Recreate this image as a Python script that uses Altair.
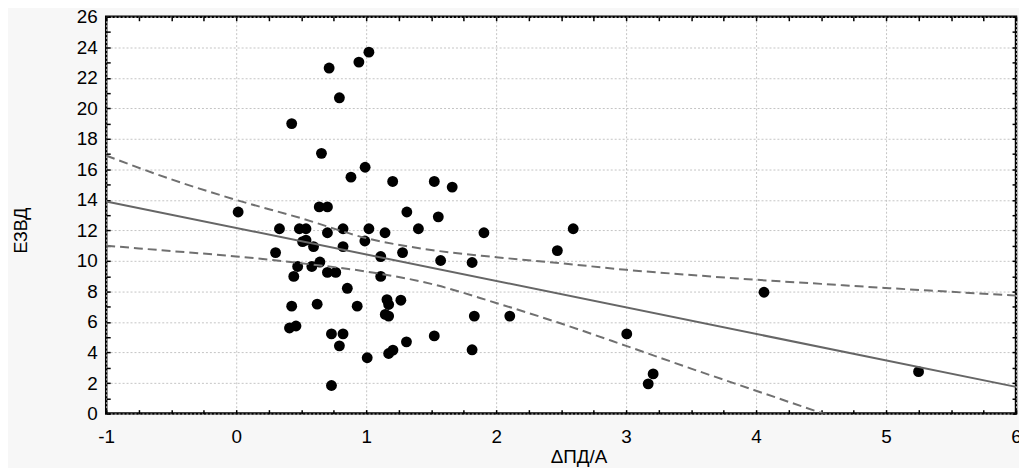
import altair as alt
import pandas as pd

# scatter points (ΔПД/А, ЕЗВД)
px = [0.015, 0.427, 0.715, 0.944, 1.021, 0.794, 0.656, 0.992, 0.883, 1.204,
      1.524, 1.662, 0.639, 0.702, 1.313, 1.555, 0.333, 0.486, 0.537, 0.702,
      0.822, 1.021, 1.145, 1.402, 1.906, 0.511, 0.537, 0.595, 0.822, 0.990,
      0.303, 1.112, 1.280, 1.573, 1.815, 0.473, 0.644, 0.582, 0.443, 0.702,
      0.766, 1.112, 0.855, 0.427, 0.623, 0.931, 1.160, 1.173, 1.267, 1.147,
      1.173, 1.832, 2.105, 0.410, 0.460, 0.733, 0.822, 1.524, 0.794, 1.310,
      1.815, 1.173, 1.206, 1.008, 0.733, 2.471, 2.593, 3.005, 3.208, 3.170,
      4.061, 5.250]
py = [13.21, 19.00, 22.64, 23.03, 23.68, 20.69, 17.05, 16.14, 15.49, 15.21,
      15.21, 14.84, 13.54, 13.54, 13.21, 12.89, 12.11, 12.11, 12.11, 11.85,
      12.11, 12.11, 11.85, 12.11, 11.85, 11.27, 11.37, 10.94, 10.94, 11.31,
      10.55, 10.29, 10.55, 10.03, 9.90, 9.64, 9.93, 9.64, 8.99, 9.25,
      9.25, 8.99, 8.21, 7.04, 7.17, 7.04, 7.47, 7.15, 7.43, 6.50,
      6.39, 6.39, 6.39, 5.61, 5.74, 5.22, 5.22, 5.09, 4.44, 4.70,
      4.18, 3.94, 4.16, 3.66, 1.84, 10.68, 12.11, 5.22, 2.60, 1.95,
      7.95, 2.75]

# regression line
reg_x = [-1, 6]
reg_y = [13.9, 1.75]

# confidence band (dashed)
band_x = [-1, -0.5, 0, 0.5, 1, 1.5, 2, 2.5, 3, 3.5, 4, 4.5, 5, 5.5, 6]
upper_y = [16.9, 15.35, 14.0, 12.8, 11.5, 10.72, 10.25, 9.85, 9.42, 9.08, 8.77, 8.5, 8.23, 7.98, 7.73]
lower_x = [-1, -0.5, 0, 0.5, 1, 1.5, 2, 2.5, 3, 3.5, 4, 4.5, 5]
lower_y = [11.0, 10.65, 10.3, 9.85, 9.31, 8.5, 7.25, 5.9, 4.44, 2.95, 1.5, 0.05, -1.35]

x_minor = [-1 + 0.25 * i for i in range(29)]
y_minor = list(range(0, 27))

pts = pd.DataFrame({"x": px, "y": py})
reg = pd.DataFrame({"x": reg_x, "y": reg_y})
up = pd.DataFrame({"x": band_x, "y": upper_y})
lo = pd.DataFrame({"x": lower_x, "y": lower_y})

FONT = "Liberation Sans"
xs = alt.Scale(domain=[-1, 6], nice=False, zero=False)
ys = alt.Scale(domain=[0, 26], nice=False, zero=False)

X_MINOR = "datum.value % 1 !== 0"
Y_MINOR = "datum.value % 2 !== 0"
TS = 4

points = alt.Chart(pts).mark_point(filled=True, color="black", opacity=1, size=120).encode(
    x=alt.X("x:Q", scale=xs, title="ΔПД/А",
            axis=alt.Axis(orient="bottom", values=x_minor,
                          labelExpr="datum.value % 1 === 0 ? '' + datum.value : ''",
                          domain=False, ticks=True, tickSize=TS, tickColor="black", tickWidth=1.5,
                          offset=-TS,
                          grid=True, gridColor="#c4c4c4", gridDash=[2, 2], gridWidth=1,
                          gridOpacity={"condition": {"test": X_MINOR, "value": 0}, "value": 1},
                          labelFont=FONT, labelFontSize=19, labelColor="black",
                          labelPadding=14, titleFont=FONT, titleFontSize=19,
                          titleFontWeight="normal", titleColor="black", titlePadding=1,
                          titleX=476, labelFlush=False)),
    y=alt.Y("y:Q", scale=ys, title="ЕЗВД",
            axis=alt.Axis(orient="left", values=y_minor,
                          labelExpr="datum.value % 2 === 0 ? '' + datum.value : ''",
                          domain=False, ticks=True, tickSize=TS, tickColor="black", tickWidth=1.5,
                          offset=-TS,
                          grid=True, gridColor="#c4c4c4", gridDash=[2, 2], gridWidth=1,
                          gridOpacity={"condition": {"test": Y_MINOR, "value": 0}, "value": 1},
                          labelFont=FONT, labelFontSize=19, labelColor="black",
                          labelPadding=9, titleFont=FONT, titleFontSize=18,
                          titleFontWeight="normal", titleColor="black", titlePadding=46,
                          titleY=215, labelFlush=False)),
)

regline = alt.Chart(reg).mark_line(color="#666666", strokeWidth=2).encode(
    x=alt.X("x:Q", scale=xs, axis=None), y=alt.Y("y:Q", scale=ys, axis=None))

upper = alt.Chart(up).mark_line(color="#707070", strokeWidth=2, strokeDash=[9, 5], interpolate="monotone").encode(
    x=alt.X("x:Q", scale=xs, axis=None), y=alt.Y("y:Q", scale=ys, axis=None))

lower = alt.Chart(lo).mark_line(color="#707070", strokeWidth=2, strokeDash=[9, 5], interpolate="monotone", clip=True).encode(
    x=alt.X("x:Q", scale=xs, axis=None), y=alt.Y("y:Q", scale=ys, axis=None))

def tick_axis(orient, vals):
    return alt.Axis(orient=orient, values=vals, labels=False, title=None, domain=False,
                    grid=False, ticks=True, tickSize=TS, tickColor="black", tickWidth=1.5,
                    offset=-TS)

ticks2 = alt.Chart(reg).mark_line(opacity=0).encode(
    x=alt.X("x:Q", scale=xs, axis=tick_axis("top", x_minor)),
    y=alt.Y("y:Q", scale=ys, axis=tick_axis("right", y_minor)))

chart = alt.layer(points, regline, upper, lower, ticks2).resolve_axis(
    x="independent", y="independent"
).properties(
    width=917, height=400,
    autosize=alt.AutoSizeParams(type="none"),
    padding={"left": 99, "top": 7, "right": 3, "bottom": 53},
    background="#f7f7f7",
).configure_view(stroke="black", strokeWidth=2.5, fill="white")

chart.save("out.html", embed_options={"renderer": "svg", "actions": False})
